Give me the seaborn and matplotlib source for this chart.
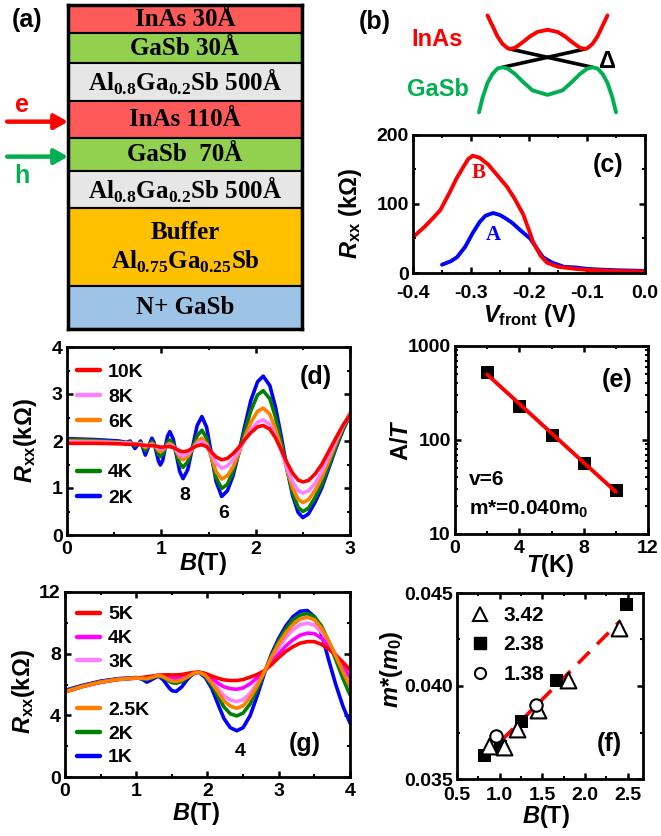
import numpy as np
import pandas as pd
import seaborn as sns
import matplotlib.pyplot as plt
from matplotlib.lines import Line2D
from matplotlib.ticker import (MultipleLocator, FormatStrFormatter,
                               LogLocator, NullFormatter, FuncFormatter)

# ---------------- data ----------------
# (a) layer stack, top to bottom
layer_names = ['InAs 30Å', 'GaSb 30Å',
               r'Al$_{\mathbf{0.8}}$Ga$_{\mathbf{0.2}}$Sb 500Å',
               'InAs 110Å', 'GaSb  70Å',
               r'Al$_{\mathbf{0.8}}$Ga$_{\mathbf{0.2}}$Sb 500Å',
               'Buffer\n' + r'Al$_{\mathbf{0.75}}$Ga$_{\mathbf{0.25}}$Sb',
               'N+ GaSb']
layer_colors = ['#FF5A5A', '#92D050', '#E6E6E6', '#FF5A5A', '#92D050',
                '#E6E6E6', '#FFC000', '#9DC3E6']
layer_heights = [28.3, 30, 37.7, 36.7, 33.3, 37.3, 77.7, 43]  # drawing only

# (b) schematic bands
inas_k = [-1.2, -1.1, -1.0, -0.9, -0.8, -0.75, -0.65, -0.5, -0.35, -0.2, 0,
          0.2, 0.35, 0.5, 0.65, 0.75, 0.8, 0.9, 1.0, 1.1, 1.2]
inas_E = [2.15, 1.8, 1.45, 1.2, 1.06, 1.03, 1.07, 1.25, 1.45, 1.6, 1.67,
          1.6, 1.45, 1.25, 1.07, 1.03, 1.06, 1.2, 1.45, 1.8, 2.15]
gasb_k = [-1.37, -1.3, -1.2, -1.1, -1.0, -0.9, -0.8, -0.65, -0.5, -0.3, 0,
          0.3, 0.5, 0.65, 0.8, 0.9, 1.0, 1.1, 1.2, 1.3, 1.37]
gasb_E = [-1.08, -0.6, -0.1, 0.2, 0.38, 0.42, 0.38, 0.2, -0.05, -0.35, -0.5,
          -0.35, -0.05, 0.2, 0.38, 0.42, 0.38, 0.2, -0.1, -0.6, -1.08]
cross1_k = [-0.75, 0.9]
cross1_E = [1.03, 0.42]
cross2_k = [-0.9, 0.75]
cross2_E = [0.42, 1.03]

# (c) Rxx vs Vfront
vB = [-0.4, -0.38, -0.365, -0.353, -0.336, -0.325, -0.313, -0.305, -0.297,
      -0.285, -0.27, -0.255, -0.238, -0.225, -0.21, -0.2, -0.193, -0.18,
      -0.169, -0.15, -0.12, -0.1, -0.05, 0.0]
rB = [52, 67, 80, 91, 118, 137, 154, 165, 170, 167, 157, 142, 125, 108, 85,
      62, 45, 25, 15, 9, 6, 4.5, 3, 2]
vA = [-0.35, -0.335, -0.324, -0.31, -0.297, -0.285, -0.275, -0.262, -0.25,
      -0.238, -0.228, -0.215, -0.198, -0.186, -0.176, -0.16, -0.14, -0.12,
      -0.1, -0.08, -0.05, 0.0]
rA = [12, 17, 23, 38, 58, 74, 83, 87, 84, 78, 72, 62, 50, 35, 23, 15, 9, 8,
      6, 5, 4, 3]

# (d) Rxx(B) at different T
B_d = [0.0, 0.3, 0.55, 0.63, 0.67, 0.695, 0.72, 0.75, 0.78, 0.805, 0.83,
       0.865, 0.9, 0.92, 0.945, 0.97, 0.99, 1.015, 1.04, 1.065, 1.09, 1.125,
       1.16, 1.195, 1.23, 1.28, 1.33, 1.38, 1.43, 1.48, 1.53, 1.58, 1.64,
       1.70, 1.76, 1.82, 1.88, 1.95, 2.02, 2.08, 2.15, 2.21, 2.27, 2.33,
       2.39, 2.45, 2.5, 2.56, 2.63, 2.7, 2.78, 2.86, 2.93, 3.0]
d_2K = [2.05, 2.03, 2.0, 1.97, 2.0, 1.92, 1.84, 1.92, 2.0, 1.85, 1.7, 1.88,
        2.06, 1.98, 1.78, 1.57, 1.49, 1.59, 1.85, 2.1, 2.2, 2.05, 1.7, 1.35,
        1.2, 1.39, 1.86, 2.33, 2.52, 2.29, 1.73, 1.14, 0.82, 0.94, 1.26,
        1.74, 2.28, 2.87, 3.26, 3.38, 3.18, 2.72, 2.11, 1.44, 0.85, 0.48,
        0.37, 0.45, 0.7, 1.0, 1.45, 1.9, 2.25, 2.55]
d_4K = [2.03, 2.01, 1.98, 1.96, 1.98, 1.94, 1.9, 1.93, 1.97, 1.88, 1.8, 1.9,
        1.99, 1.94, 1.83, 1.72, 1.67, 1.72, 1.85, 1.97, 2.02, 1.94, 1.73,
        1.52, 1.44, 1.56, 1.84, 2.11, 2.23, 2.06, 1.66, 1.22, 0.99, 1.08,
        1.35, 1.74, 2.18, 2.65, 2.98, 3.07, 2.9, 2.51, 1.99, 1.41, 0.91,
        0.59, 0.5, 0.57, 0.8, 1.08, 1.5, 1.93, 2.27, 2.55]
d_6K = [2.0, 1.99, 1.97, 1.96, 1.96, 1.94, 1.93, 1.94, 1.95, 1.9, 1.86, 1.9,
        1.95, 1.92, 1.86, 1.8, 1.77, 1.8, 1.86, 1.92, 1.95, 1.9, 1.78, 1.65,
        1.6, 1.67, 1.83, 1.99, 2.06, 1.94, 1.66, 1.35, 1.19, 1.26, 1.45,
        1.73, 2.05, 2.4, 2.63, 2.7, 2.57, 2.26, 1.85, 1.4, 1.01, 0.76, 0.69,
        0.75, 0.95, 1.22, 1.6, 2.0, 2.33, 2.6]
d_8K = [1.98, 1.97, 1.96, 1.95, 1.95, 1.94, 1.93, 1.93, 1.94, 1.91, 1.89,
        1.9, 1.92, 1.91, 1.88, 1.84, 1.83, 1.84, 1.87, 1.9, 1.91, 1.88, 1.8,
        1.71, 1.68, 1.73, 1.84, 1.94, 1.99, 1.91, 1.73, 1.53, 1.42, 1.47,
        1.6, 1.79, 2.01, 2.24, 2.4, 2.45, 2.35, 2.11, 1.79, 1.44, 1.14, 0.95,
        0.89, 0.94, 1.1, 1.35, 1.7, 2.05, 2.33, 2.55]
d_10K = [1.95, 1.95, 1.94, 1.93, 1.93, 1.93, 1.93, 1.92, 1.92, 1.91, 1.91,
         1.9, 1.9, 1.9, 1.89, 1.88, 1.87, 1.87, 1.88, 1.88, 1.88, 1.86, 1.83,
         1.79, 1.77, 1.79, 1.85, 1.9, 1.92, 1.88, 1.77, 1.66, 1.6, 1.63,
         1.73, 1.86, 2.02, 2.18, 2.3, 2.33, 2.25, 2.07, 1.82, 1.55, 1.32,
         1.17, 1.13, 1.16, 1.3, 1.5, 1.8, 2.1, 2.35, 2.55]

# (e) amplitude vs T
T_e = [2, 4, 6, 8, 10]
A_e = [533, 230, 112, 57.5, 29.3]

# (g) Rxx(B) at different T
B_g = [0.0, 0.25, 0.5, 0.75, 1.0, 1.08, 1.15, 1.23, 1.31, 1.38, 1.45, 1.5,
       1.56, 1.64, 1.72, 1.8, 1.88, 1.97, 2.06, 2.15, 2.23, 2.32, 2.41, 2.5,
       2.6, 2.7, 2.8, 2.9, 3.0, 3.1, 3.2, 3.3, 3.4, 3.5, 3.6, 3.7, 3.8, 3.9,
       4.0]
g_1K = [5.62, 5.95, 6.22, 6.38, 6.45, 6.35, 6.15, 6.35, 6.55, 6.3, 5.85, 5.6,
        5.55, 5.85, 6.35, 6.7, 6.8, 6.45, 5.75, 4.7, 3.8, 3.2, 3.0, 3.2, 4.0,
        5.3, 6.75, 8.0, 9.0, 9.8, 10.4, 10.75, 10.8, 10.4, 9.3, 7.6, 6.0,
        4.6, 3.5]
g_2K = [5.58, 5.92, 6.19, 6.36, 6.43, 6.38, 6.33, 6.45, 6.58, 6.45, 6.25,
        6.12, 6.08, 6.2, 6.45, 6.7, 6.8, 6.55, 5.95, 5.2, 4.55, 4.1, 3.96,
        4.15, 4.75, 5.7, 6.8, 7.9, 8.85, 9.6, 10.2, 10.5, 10.6, 10.4, 9.8,
        8.8, 7.6, 6.4, 5.32]
g_25K = [5.52, 5.88, 6.15, 6.33, 6.42, 6.4, 6.38, 6.48, 6.6, 6.5, 6.32, 6.23,
         6.2, 6.3, 6.5, 6.72, 6.8, 6.6, 6.1, 5.5, 4.95, 4.6, 4.46, 4.62, 5.15,
         5.95, 6.85, 7.8, 8.65, 9.35, 9.9, 10.25, 10.37, 10.2, 9.65, 8.85,
         7.85, 6.85, 5.87]
g_3K = [5.52, 5.88, 6.15, 6.33, 6.42, 6.41, 6.4, 6.5, 6.6, 6.52, 6.38, 6.32,
        6.3, 6.38, 6.55, 6.73, 6.8, 6.62, 6.2, 5.72, 5.28, 5.0, 4.89, 5.02,
        5.45, 6.1, 6.85, 7.65, 8.4, 9.05, 9.55, 9.88, 9.98, 9.85, 9.4, 8.75,
        7.95, 7.1, 6.3]
g_4K = [5.52, 5.88, 6.15, 6.33, 6.42, 6.42, 6.42, 6.52, 6.6, 6.55, 6.47, 6.43,
        6.42, 6.48, 6.6, 6.75, 6.8, 6.68, 6.4, 6.08, 5.85, 5.73, 5.69, 5.78,
        6.05, 6.45, 6.9, 7.45, 8.0, 8.5, 8.9, 9.2, 9.33, 9.3, 9.0, 8.5, 7.9,
        7.2, 6.5]
g_5K = [5.52, 5.88, 6.15, 6.33, 6.42, 6.45, 6.5, 6.55, 6.6, 6.62, 6.63, 6.62,
        6.62, 6.65, 6.72, 6.78, 6.8, 6.72, 6.55, 6.4, 6.3, 6.26, 6.26, 6.32,
        6.48, 6.65, 6.9, 7.3, 7.75, 8.15, 8.45, 8.68, 8.78, 8.78, 8.6, 8.3,
        7.9, 7.45, 6.95]

# (f) effective mass vs B
f_tri_B = [0.88, 1.05, 1.2, 1.45, 1.8, 2.4]
f_tri_m = [0.0368, 0.0367, 0.0377, 0.0387, 0.0403, 0.0431]
f_sq_B = [0.82, 1.0, 1.25, 1.66, 2.48]
f_sq_m = [0.0363, 0.0368, 0.0381, 0.0403, 0.0444]
f_ci_B = [0.96, 1.43]
f_ci_m = [0.0373, 0.0390]
f_fit_B = [0.8, 2.4]

RED, PINK, ORANGE, GREEN, BLUE, MAGENTA = ('#FF0000', '#FF80FF', '#FF8000',
                                           '#008000', '#0000FF', '#FF00FF')

# ---------------- style ----------------
sns.set_style('ticks')
plt.rcParams.update({
    'font.family': ['Liberation Sans', 'DejaVu Sans'],
    'font.weight': 'bold',
    'axes.labelweight': 'bold',
    'axes.edgecolor': 'black',
    'axes.labelcolor': 'black',
    'text.color': 'black',
    'xtick.color': 'black',
    'ytick.color': 'black',
    'axes.linewidth': 2.0,
    'xtick.direction': 'in',
    'ytick.direction': 'in',
    'xtick.major.size': 4,
    'ytick.major.size': 4,
    'xtick.minor.size': 2.5,
    'ytick.minor.size': 2.5,
    'xtick.major.width': 1.8,
    'ytick.major.width': 1.8,
    'xtick.minor.width': 1.5,
    'ytick.minor.width': 1.5,
    'xtick.labelsize': 14,
    'ytick.labelsize': 14,
    'xtick.major.pad': 4,
    'ytick.major.pad': 3,
    'axes.unicode_minus': False,
    'mathtext.fontset': 'custom',
    'mathtext.rm': 'Liberation Sans:bold',
    'mathtext.it': 'Liberation Sans:italic:bold',
    'mathtext.bf': 'Liberation Serif:bold',
    'legend.frameon': False,
})

W, H = 661, 836
fig = plt.figure(figsize=(W / 100, H / 100), dpi=100)


def px_axes(x0, y0, x1, y1):
    """axes from pixel box (top-left origin)"""
    return fig.add_axes([x0 / W, 1 - y1 / H, (x1 - x0) / W, (y1 - y0) / H])


def fig_text(x, y, s, **kw):
    fig.text(x / W, 1 - y / H, s, ha='center', va='center', **kw)


def ticks(ax):
    ax.tick_params(which='both', direction='in', top=True, right=True)


def labels(ax, xl, yl, xpos, ypos):
    ax.set_xlabel(xl, fontsize=17, va='center')
    ax.set_ylabel(yl, fontsize=17, va='center')
    ax.xaxis.set_label_coords(*xpos)
    ax.yaxis.set_label_coords(*ypos)


def line(ax, x, y, color, lw=2.4, **kw):
    sns.lineplot(x=x, y=y, ax=ax, color=color, lw=lw, sort=False,
                 estimator=None, legend=False, **kw)


# ---------------- (a) ----------------
ax = px_axes(68, 5, 302, 329)
total = sum(layer_heights)
top = total
for name, col, h in zip(layer_names, layer_colors, layer_heights):
    ax.bar(0.5, h, bottom=top - h, width=1, color=col, edgecolor='black',
           linewidth=1.5)
    if name.startswith('Buffer'):
        first, second = name.split('\n')
        ax.text(0.5, top - h / 2 + 15, first, ha='center', va='center',
                family='Liberation Serif', fontsize=18, weight='bold')
        ax.text(0.5, top - h / 2 - 15, second, ha='center', va='center',
                family='Liberation Serif', fontsize=18, weight='bold')
    else:
        ax.text(0.5, top - h / 2, name, ha='center', va='center',
                family='Liberation Serif', fontsize=18, weight='bold')
    top -= h
ax.set_xlim(0, 1)
ax.set_ylim(0, total)
ax.set_xticks([])
ax.set_yticks([])
for s in ax.spines.values():
    s.set_linewidth(2.5)
ax.annotate('', xy=(0, 0.64), xytext=(-0.26, 0.64), xycoords='axes fraction',
            arrowprops=dict(arrowstyle='-|>,head_length=0.8,head_width=0.45',
                            color='#FF0000', lw=3.2, shrinkA=0, shrinkB=0))
ax.annotate('', xy=(0, 0.532), xytext=(-0.26, 0.532),
            xycoords='axes fraction',
            arrowprops=dict(arrowstyle='-|>,head_length=0.8,head_width=0.45',
                            color='#00B050', lw=3.2, shrinkA=0, shrinkB=0))
fig_text(22, 105, 'e', color='#FF0000', fontsize=18)
fig_text(22, 176, 'h', color='#00B050', fontsize=18)
fig_text(27, 20, '(a)', fontsize=18)

# ---------------- (b) ----------------
ax = px_axes(470, 10, 625, 118)
line(ax, cross1_k, cross1_E, 'black', lw=2.6)
line(ax, cross2_k, cross2_E, 'black', lw=2.6)
line(ax, inas_k, inas_E, '#FF0000', lw=2.8)
line(ax, gasb_k, gasb_E, '#00B050', lw=2.8)
ax.set_xlim(-1.55, 1.55)
ax.set_ylim(-1.27, 2.33)
ax.axis('off')
fig_text(375, 22, '(b)', fontsize=18)
fig_text(437, 40, 'InAs', color='#FF0000', fontsize=17)
fig_text(438, 90, 'GaSb', color='#00B050', fontsize=17)
fig_text(607, 62, 'Δ', fontsize=17)

# ---------------- (c) ----------------
ax = px_axes(413, 135, 645, 273)
line(ax, vA, rA, BLUE, lw=2.8)
line(ax, vB, rB, RED, lw=2.8)
ax.set_xlim(-0.4, 0.0)
ax.set_ylim(0, 200)
ax.xaxis.set_major_locator(MultipleLocator(0.1))
ax.xaxis.set_minor_locator(MultipleLocator(0.05))
ax.xaxis.set_major_formatter(FormatStrFormatter('%.1f'))
ax.yaxis.set_major_locator(MultipleLocator(100))
ax.yaxis.set_minor_locator(MultipleLocator(50))
ticks(ax)
ax.tick_params(axis='x', pad=9)
labels(ax, r'$V_{\rm front}$ (V)', r'$R_{\rm xx}$ (kΩ)',
       (0.5, -0.31), (-0.27, 0.43))
ax.text(-0.286, 145, 'B', color=RED, family='Liberation Serif',
        fontsize=15, weight='bold', ha='center', va='center')
ax.text(-0.262, 55, 'A', color=BLUE, family='Liberation Serif',
        fontsize=15, weight='bold', ha='center', va='center')
ax.text(0.84, 0.78, '(c)', transform=ax.transAxes, fontsize=18,
        ha='center', va='center')

# ---------------- (d) ----------------
ax = px_axes(67, 347, 350, 535)
d_series = [('2K', d_2K, BLUE), ('4K', d_4K, GREEN), ('6K', d_6K, ORANGE),
            ('8K', d_8K, PINK), ('10K', d_10K, RED)]
for lab, vals, col in d_series:
    line(ax, B_d, vals, col, lw=2.6)
ax.set_xlim(0, 3)
ax.set_ylim(0, 4)
ax.xaxis.set_major_locator(MultipleLocator(1))
ax.xaxis.set_minor_locator(MultipleLocator(0.5))
ax.yaxis.set_major_locator(MultipleLocator(1))
ax.yaxis.set_minor_locator(MultipleLocator(0.5))
ticks(ax)
labels(ax, r'$B$(T)', r'$R_{\rm xx}$(kΩ)', (0.48, -0.15), (-0.148, 0.5))
handles = [Line2D([], [], color=RED, lw=3.2), Line2D([], [], color=PINK, lw=3.2),
           Line2D([], [], color=ORANGE, lw=3.2), Line2D([], [], color='none'),
           Line2D([], [], color=GREEN, lw=3.2), Line2D([], [], color=BLUE, lw=3.2)]
ax.legend(handles, ['10K', '8K', '6K', '', '4K', '2K'], loc='upper left',
          bbox_to_anchor=(0.035, 0.915), borderpad=0, borderaxespad=0,
          handlelength=1.2, handletextpad=0.4, labelspacing=0.39,
          prop={'weight': 'bold', 'size': 14})
ax.text(1.25, 0.85, '8', fontsize=14, ha='center', va='center')
ax.text(1.66, 0.46, '6', fontsize=14, ha='center', va='center')
ax.text(0.88, 0.84, '(d)', transform=ax.transAxes, fontsize=18,
        ha='center', va='center')

# ---------------- (e) ----------------
ax = px_axes(455, 346, 648, 534)
sns.scatterplot(x=T_e, y=A_e, ax=ax, marker='s', s=85, color='black',
                edgecolor='black', legend=False, zorder=2)
fit = np.polyfit(T_e, np.log10(A_e), 1)
fit_T = [T_e[0], T_e[-1]]
line(ax, fit_T, 10 ** np.polyval(fit, fit_T), RED, lw=2.8, zorder=3)
ax.set_yscale('log')
ax.set_xlim(0, 12)
ax.set_ylim(10, 1000)
ax.xaxis.set_major_locator(MultipleLocator(4))
ax.xaxis.set_minor_locator(MultipleLocator(2))
ax.yaxis.set_major_locator(LogLocator(base=10))
ax.yaxis.set_minor_locator(LogLocator(base=10, subs=np.arange(2, 10)))
ax.yaxis.set_major_formatter(FuncFormatter(lambda v, p: '%g' % v))
ax.yaxis.set_minor_formatter(NullFormatter())
ticks(ax)
labels(ax, r'$T$(K)', r'A/$T$', (0.49, -0.165), (-0.275, 0.5))
ax.text(0.07, 0.29, 'v=6', transform=ax.transAxes, fontsize=15,
        ha='left', va='center')
ax.text(0.07, 0.13, r'm*=0.040m$_{\rm 0}$', transform=ax.transAxes,
        fontsize=15, ha='left', va='center')
ax.text(0.84, 0.82, '(e)', transform=ax.transAxes, fontsize=18,
        ha='center', va='center')

# ---------------- (g) ----------------
ax = px_axes(65, 592, 350, 777)
g_series = [('1K', g_1K, BLUE), ('2K', g_2K, GREEN), ('3K', g_3K, PINK),
            ('4K', g_4K, MAGENTA), ('5K', g_5K, RED), ('2.5K', g_25K, ORANGE)]
for lab, vals, col in g_series:
    line(ax, B_g, vals, col, lw=2.6)
ax.set_xlim(0, 4)
ax.set_ylim(0, 12)
ax.xaxis.set_major_locator(MultipleLocator(1))
ax.xaxis.set_minor_locator(MultipleLocator(0.5))
ax.yaxis.set_major_locator(MultipleLocator(4))
ax.yaxis.set_minor_locator(MultipleLocator(2))
ticks(ax)
labels(ax, r'$B$(T)', r'$R_{\rm xx}$(kΩ)', (0.46, -0.195), (-0.147, 0.46))
handles = [Line2D([], [], color=RED, lw=3.2), Line2D([], [], color=MAGENTA, lw=3.2),
           Line2D([], [], color=PINK, lw=3.2), Line2D([], [], color='none'),
           Line2D([], [], color=ORANGE, lw=3.2), Line2D([], [], color=GREEN, lw=3.2),
           Line2D([], [], color=BLUE, lw=3.2)]
ax.legend(handles, ['5K', '4K', '3K', '', '2.5K', '2K', '1K'],
          loc='upper left', bbox_to_anchor=(0.042, 0.925), borderpad=0,
          borderaxespad=0, handlelength=1.2, handletextpad=0.4,
          labelspacing=0.32, prop={'weight': 'bold', 'size': 14})
ax.text(2.46, 1.64, '4', fontsize=14, ha='center', va='center')
ax.text(0.84, 0.18, '(g)', transform=ax.transAxes, fontsize=18,
        ha='center', va='center')

# ---------------- (f) ----------------
ax = px_axes(457, 593, 643, 779)
all_B = f_tri_B + f_sq_B + f_ci_B
all_m = f_tri_m + f_sq_m + f_ci_m
mfit = np.polyfit(all_B, all_m, 1)
line(ax, f_fit_B, np.polyval(mfit, f_fit_B), RED, lw=2.6,
     dashes=(4.5, 3), zorder=1)
sns.scatterplot(x=f_sq_B, y=f_sq_m, ax=ax, marker='s', s=85, color='black',
                edgecolor='black', legend=False, zorder=2)
sns.scatterplot(x=f_tri_B, y=f_tri_m, ax=ax, marker='^', s=130,
                color='white', edgecolor='black', linewidth=1.5,
                legend=False, zorder=3)
sns.scatterplot(x=f_ci_B, y=f_ci_m, ax=ax, marker='o', s=80, color='white',
                edgecolor='black', linewidth=1.5, legend=False, zorder=4)
ax.set_xlim(0.5, 2.68)
ax.set_ylim(0.035, 0.045)
ax.xaxis.set_major_locator(MultipleLocator(0.5))
ax.xaxis.set_minor_locator(MultipleLocator(0.25))
ax.xaxis.set_major_formatter(FormatStrFormatter('%.1f'))
ax.yaxis.set_major_locator(MultipleLocator(0.005))
ax.yaxis.set_minor_locator(MultipleLocator(0.0025))
ax.yaxis.set_major_formatter(FormatStrFormatter('%.3f'))
ticks(ax)
ax.tick_params(axis='x', pad=6)
labels(ax, r'$B$(T)', r'$m$*($m_{\rm 0}$)', (0.48, -0.2), (-0.35, 0.59))
handles = [Line2D([], [], ls='none', marker='^', ms=10, mfc='white',
                  mec='black', mew=1.5),
           Line2D([], [], ls='none', marker='s', ms=8, mfc='black',
                  mec='black'),
           Line2D([], [], ls='none', marker='o', ms=8, mfc='white',
                  mec='black', mew=1.5)]
ax.legend(handles, ['3.42', '2.38', '1.38'], loc='upper left',
          bbox_to_anchor=(0.07, 0.93), borderpad=0, borderaxespad=0,
          handlelength=1.0, handletextpad=0.6, labelspacing=0.5,
          prop={'weight': 'bold', 'size': 15})
ax.text(0.82, 0.19, '(f)', transform=ax.transAxes, fontsize=18,
        ha='center', va='center')

fig.savefig('out.png', dpi=100, facecolor='white')
